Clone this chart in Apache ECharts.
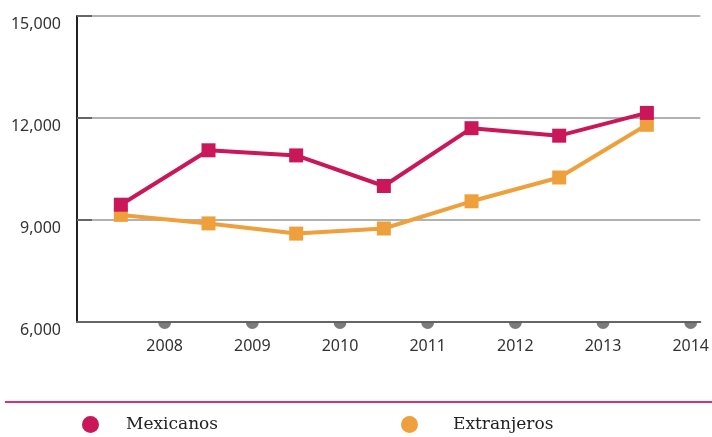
<!DOCTYPE html>
<html>
<head>
<meta charset="utf-8">
<script src="https://cdn.jsdelivr.net/npm/echarts@6/dist/echarts.min.js"></script>
<style>
  html, body { margin: 0; padding: 0; background: #fff; }
  #chart { width: 712px; height: 437px; }
</style>
</head>
<body>
<div id="chart"></div>
<script>
// values
const years = [2007, 2008, 2009, 2010, 2011, 2012, 2013]
const mexicanos = [9450, 11050, 10900, 10000, 11700, 11480, 12150]
const extranjeros = [9150, 8900, 8600, 8750, 9550, 10250, 11800]
const tickYears = [2008, 2009, 2010, 2011, 2012, 2013, 2014]

const dom = document.getElementById('chart')
const chart = echarts.init(dom)

const pink = '#C9175A'
const orange = '#EEA03D'

// points sit in the middle of each year band
function toPoints(vals) {
  return vals.map(function (v, i) { return [years[i] + 0.5, v] })
}

const legendText = { fontFamily: 'DejaVu Serif', fontSize: 17, color: '#222' }

const option = {
  animation: false,
  grid: { left: 77, right: 9, top: 16, bottom: 115 },
  xAxis: {
    type: 'value',
    min: 2007,
    max: 2014.11,
    interval: 1,
    axisLine: { lineStyle: { color: '#666', width: 2 } },
    axisTick: { show: false },
    splitLine: { show: false },
    axisLabel: {
      margin: 16,
      color: '#333',
      fontFamily: 'Noto Sans',
      fontSize: 16,
      formatter: function (v) {
        return Number.isInteger(v) && v > 2007 ? String(v) : ''
      }
    }
  },
  yAxis: {
    type: 'value',
    min: 6000,
    max: 15000,
    interval: 3000,
    axisLine: { show: true, lineStyle: { color: '#222', width: 2 } },
    axisTick: { show: true, inside: true, length: 15, lineStyle: { color: '#666', width: 2 } },
    splitLine: { lineStyle: { color: '#999', width: 1.5 } },
    axisLabel: {
      margin: 16,
      color: '#333',
      fontFamily: 'Noto Sans',
      fontSize: 16,
      verticalAlign: 'top',
      lineHeight: 16,
      formatter: function (v) { return v.toLocaleString('en-US') }
    }
  },
  legend: [
    {
      left: 77, top: 411,
      icon: 'circle', itemWidth: 17, itemHeight: 17,
      textStyle: Object.assign({ padding: [0, 0, 0, 22] }, legendText),
      data: ['Mexicanos']
    },
    {
      left: 396, top: 411,
      icon: 'circle', itemWidth: 17, itemHeight: 17,
      textStyle: Object.assign({ padding: [0, 0, 0, 30] }, legendText),
      data: ['Extranjeros']
    }
  ],
  graphic: [
    {
      type: 'line',
      shape: { x1: 5, y1: 402, x2: 712, y2: 402 },
      style: { stroke: '#D9336F', lineWidth: 2 }
    }
  ],
  series: [
    {
      name: 'tick marks',
      type: 'scatter',
      silent: true,
      clip: false,
      z: 1,
      symbol: 'path://M0,0 A6,6 0 0 0 12,0 Z',
      symbolSize: [13, 7],
      symbolOffset: [0, 3.5],
      itemStyle: { color: '#5a5a5a' },
      data: tickYears.map(function (y) { return [y, 6000] })
    },
    {
      name: 'Extranjeros',
      type: 'line',
      z: 3,
      symbol: 'rect',
      symbolSize: 14,
      itemStyle: { color: orange },
      lineStyle: { color: orange, width: 4 },
      data: toPoints(extranjeros)
    },
    {
      name: 'Mexicanos',
      type: 'line',
      z: 4,
      symbol: 'rect',
      symbolSize: 14,
      itemStyle: { color: pink },
      lineStyle: { color: pink, width: 4 },
      data: toPoints(mexicanos)
    }
  ]
}

chart.setOption(option)
</script>
</body>
</html>
